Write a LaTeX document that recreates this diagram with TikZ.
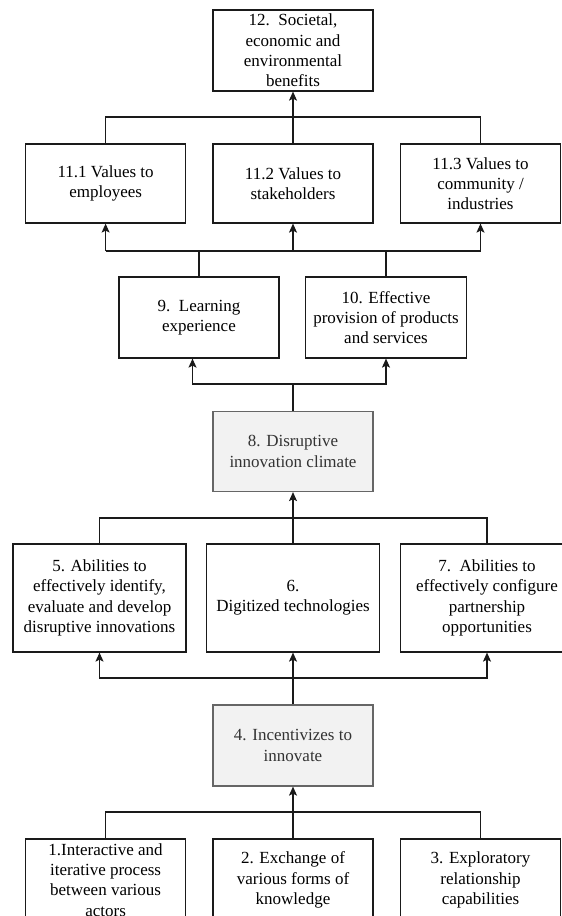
\documentclass[tikz,border=0pt]{standalone}
\usepackage{fontspec}
\setmainfont{Liberation Serif}
\usetikzlibrary{arrows.meta}
\definecolor{linec}{HTML}{1A1A1A}
\definecolor{grayfill}{HTML}{F2F2F2}
\definecolor{grayline}{HTML}{666666}
\definecolor{graytext}{HTML}{333333}
\tikzset{
  box/.style={draw=linec, line width=1.2pt, rectangle, align=center, inner sep=0pt,
    font=\fontsize{17}{20.3}\selectfont, fill=white},
  graybox/.style={box, draw=grayline, fill=grayfill, text=graytext},
  wide/.style={minimum width=160pt, minimum height=81pt},
  wider/.style={minimum width=173pt, minimum height=108pt},
  conn/.style={draw=linec, line width=1.2pt},
  arr/.style={conn, -{Stealth[length=9pt,width=8pt,inset=2pt]}}
}
\begin{document}
\begin{tikzpicture}[x=1pt,y=-1pt]
\useasboundingbox (0,0) rectangle (562,916);
\clip (0,0) rectangle (562,916);
% top
\node[box, wide] (n12) at (293,50.5) {12.\ \ Societal,\\economic and\\environmental\\benefits};
\node[box, wide, minimum height=79pt] (n111) at (105.6,183.5) {11.1 Values to\\employees};
\node[box, wide, minimum height=79pt] (n112) at (293,183.5) {11.2 Values to\\stakeholders};
\node[box, wide, minimum height=79pt] (n113) at (480.5,183.5) {11.3 Values to\\community /\\industries};
\node[box, wide] (n9) at (199,317.5) {9.\ \ Learning\\experience};
\node[box, wide, minimum width=161pt] (n10) at (386,317.5) {10. Effective\\provision of products\\and services};
\node[graybox, wide, minimum height=80pt] (n8) at (293,451.5) {8. Disruptive\\innovation climate};
\node[box, wider] (n5) at (99.5,598) {5. Abilities to\\effectively identify,\\evaluate and develop\\disruptive innovations};
\node[box, wider] (n6) at (293,598) {6.\\Digitized technologies};
\node[box, wider] (n7) at (487,598) {7.\ \ Abilities to\\effectively configure\\partnership\\opportunities};
\node[graybox, wide] (n4) at (293,745.5) {4. Incentivizes to\\innovate};
\node[box, wide, minimum height=82pt] (n1) at (105.6,880) {1.Interactive and\\iterative process\\between various\\actors};
\node[box, wide, minimum height=82pt] (n2) at (293,880) {2. Exchange of\\various forms of\\knowledge};
\node[box, wide, minimum height=82pt] (n3) at (480.5,880) {3. Exploratory\\relationship\\capabilities};
% junctions
\coordinate (j12) at (293,117);
\coordinate (j11) at (293,251);
\coordinate (j9) at (293,384);
\coordinate (j8) at (293,518);
\coordinate (j5) at (293,678);
\coordinate (j4) at (293,812);
% 11.x -> 12
\draw[conn] (n111.north) |- (j12) -| (n113.north);
\draw[arr] (n112.north) -- (n12.south);
% 9,10 -> 11.x
\draw[conn] (n111.south |- j11) -- (n113.south |- j11);
\draw[conn] (n9.north) -- (n9.north |- j11);
\draw[conn] (n10.north) -- (n10.north |- j11);
\draw[arr] (n111.south |- j11) -- (n111.south);
\draw[arr] (j11) -- (n112.south);
\draw[arr] (n113.south |- j11) -- (n113.south);
% 8 -> 9,10
\draw[conn] (n8.north) -- (j9);
\draw[arr] (j9) -| ([xshift=-6.5pt]n9.south);
\draw[arr] (j9) -| (n10.south);
% 5,6,7 -> 8
\draw[conn] (n5.north) |- (j8) -| (n7.north);
\draw[arr] (n6.north) -- (n8.south);
% 4 -> 5,6,7
\draw[conn] (n4.north) -- (j5);
\draw[arr] (j5) -| (n5.south);
\draw[arr] (j5) -- (n6.south);
\draw[arr] (j5) -| (n7.south);
% 1,2,3 -> 4
\draw[conn] (n1.north) |- (j4) -| (n3.north);
\draw[arr] (n2.north) -- (n4.south);
\end{tikzpicture}
\end{document}
